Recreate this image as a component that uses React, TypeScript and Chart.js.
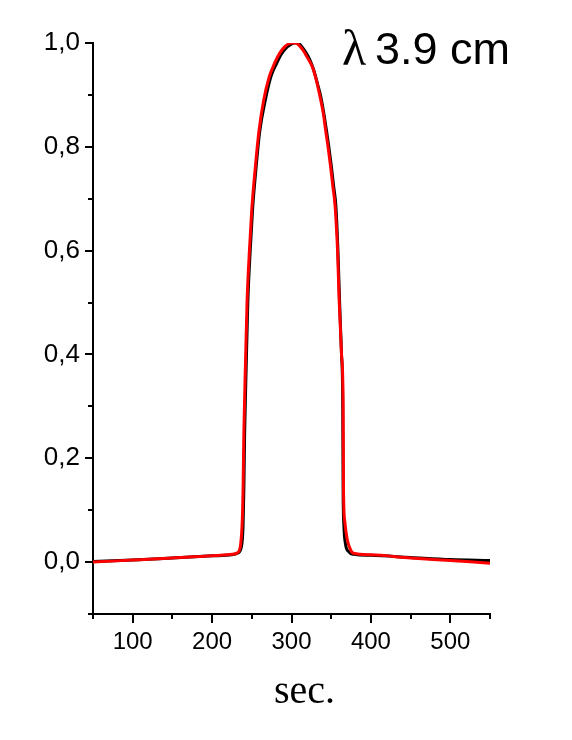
import React, { useEffect, useRef } from "react";
import { Chart, registerables } from "chart.js";

Chart.register(...registerables);

// Red curve (drawn on top)
const RED_X = [50, 100, 150, 200, 225, 232, 236, 238, 239, 240, 242, 244, 247, 250, 255, 259, 265, 272, 279, 285, 291, 296, 300, 305, 310, 315, 320, 326, 331, 336, 340, 343, 346, 349, 352, 355, 358, 360, 363, 365, 365.5, 367, 370, 374, 378, 400, 450, 500, 550];
const RED_Y = [0.0, 0.004, 0.008, 0.012, 0.015, 0.018, 0.035, 0.08, 0.14, 0.25, 0.38, 0.5, 0.6, 0.68, 0.77, 0.83, 0.89, 0.935, 0.962, 0.98, 0.992, 0.998, 1.0, 1.0, 0.995, 0.985, 0.972, 0.955, 0.93, 0.896, 0.865, 0.832, 0.8, 0.765, 0.725, 0.684, 0.6, 0.505, 0.4, 0.31, 0.14, 0.08, 0.045, 0.025, 0.017, 0.014, 0.008, 0.003, -0.002];

// Black curve
const BLACK_X = [50, 100, 150, 200, 225, 232, 237, 239, 240, 241, 243, 245, 248, 251, 256, 260, 267, 274, 281, 287, 293, 299, 303, 308, 313, 318, 323, 328, 333, 337, 341, 344, 347, 350, 353, 356, 358.5, 360.5, 363, 364.5, 365, 366, 368, 372, 378, 400, 450, 500, 550];
const BLACK_Y = [0.001, 0.004, 0.008, 0.012, 0.014, 0.017, 0.03, 0.07, 0.14, 0.25, 0.38, 0.5, 0.6, 0.68, 0.77, 0.83, 0.89, 0.935, 0.96, 0.978, 0.99, 0.997, 1.0, 1.0, 0.993, 0.982, 0.968, 0.948, 0.92, 0.896, 0.862, 0.832, 0.8, 0.765, 0.725, 0.684, 0.6, 0.505, 0.4, 0.31, 0.14, 0.07, 0.035, 0.02, 0.015, 0.013, 0.009, 0.005, 0.003];

const X_TICKS = [100, 200, 300, 400, 500];
const X_MINOR = [50, 150, 250, 350, 450, 550];
const Y_TICKS = [0, 0.2, 0.4, 0.6, 0.8, 1.0];
const Y_MINOR = [-0.1, 0.1, 0.3, 0.5, 0.7, 0.9];

const TITLE_SYMBOL = "λ";
const TITLE_TEXT = "3.9 cm";
const X_LABEL = "sec.";

const toPoints = (xs: number[], ys: number[]) => xs.map((x, i) => ({ x, y: ys[i] }));

const decorPlugin = {
  id: "decor",
  afterDraw(chart: any) {
    const { ctx, chartArea, scales } = chart;
    const xs = scales.x;
    const ys = scales.y;
    ctx.save();
    ctx.strokeStyle = "#000";
    ctx.lineWidth = 2;
    ctx.beginPath();
    X_MINOR.forEach((v) => {
      const px = Math.round(xs.getPixelForValue(v));
      ctx.moveTo(px, chartArea.bottom);
      ctx.lineTo(px, chartArea.bottom + 5);
    });
    Y_MINOR.forEach((v) => {
      const py = Math.round(ys.getPixelForValue(v));
      ctx.moveTo(chartArea.left - 5, py);
      ctx.lineTo(chartArea.left, py);
    });
    ctx.stroke();

    ctx.fillStyle = "#000";
    ctx.textBaseline = "alphabetic";
    ctx.textAlign = "left";
    ctx.font = '50px "Liberation Serif"';
    ctx.fillText(TITLE_SYMBOL, chartArea.right - 148, chartArea.top + 22);
    ctx.font = '45px "Liberation Sans"';
    ctx.fillText(TITLE_TEXT, chartArea.right - 115, chartArea.top + 21);

    ctx.textAlign = "center";
    ctx.font = '40px "Liberation Serif"';
    ctx.fillText(X_LABEL, (chartArea.left + chartArea.right) / 2 + 13, chartArea.bottom + 89);
    ctx.restore();
  },
};

export default function App() {
  const ref = useRef<HTMLCanvasElement>(null);

  useEffect(() => {
    if (!ref.current) return;
    const chart = new Chart(ref.current, {
      type: "line",
      data: {
        datasets: [
          {
            label: "red",
            data: toPoints(RED_X, RED_Y),
            borderColor: "#ff0000",
            borderWidth: 3,
            pointRadius: 0,
            cubicInterpolationMode: "monotone",
            fill: false,
          },
          {
            label: "black",
            data: toPoints(BLACK_X, BLACK_Y),
            borderColor: "#000000",
            borderWidth: 3,
            pointRadius: 0,
            cubicInterpolationMode: "monotone",
            fill: false,
          },
        ],
      },
      options: {
        animation: false,
        responsive: false,
        layout: { padding: { top: 43, right: 82, left: 0, bottom: 0 } },
        plugins: {
          legend: { display: false },
          tooltip: { enabled: false },
          title: { display: false },
        },
        scales: {
          x: {
            type: "linear",
            min: 50,
            max: 550,
            afterFit: (s: any) => {
              s.height = 126;
            },
            afterBuildTicks: (s: any) => {
              s.ticks = X_TICKS.map((value) => ({ value }));
            },
            grid: {
              display: true,
              drawOnChartArea: false,
              drawTicks: true,
              tickLength: 9,
              color: "#000",
              lineWidth: 2,
            },
            border: { display: true, color: "#000", width: 2 },
            ticks: {
              color: "#000",
              padding: 5,
              maxRotation: 0,
              font: { family: '"Liberation Sans"', size: 24 },
            },
          },
          y: {
            type: "linear",
            min: -0.1,
            max: 1.0,
            afterFit: (s: any) => {
              s.width = 93;
            },
            afterBuildTicks: (s: any) => {
              s.ticks = Y_TICKS.map((value) => ({ value }));
            },
            grid: {
              display: true,
              drawOnChartArea: false,
              drawTicks: true,
              tickLength: 8,
              color: "#000",
              lineWidth: 2,
            },
            border: { display: true, color: "#000", width: 2 },
            ticks: {
              color: "#000",
              padding: 5,
              font: { family: '"Liberation Sans"', size: 26 },
              callback: (v: any) => Number(v).toFixed(1).replace(".", ","),
            },
          },
        },
      },
      plugins: [decorPlugin],
    });
    return () => chart.destroy();
  }, []);

  return (
    <div style={{ position: "absolute", left: 0, top: 0, width: 572, height: 740, background: "#fff" }}>
      <canvas ref={ref} width={572} height={740} style={{ display: "block" }} />
    </div>
  );
}
